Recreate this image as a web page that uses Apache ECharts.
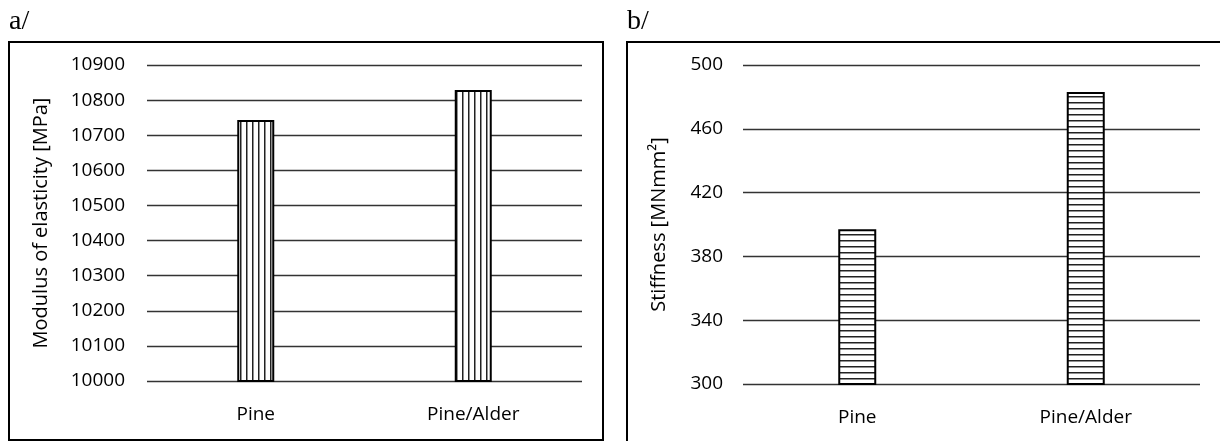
<!DOCTYPE html>
<html>
<head>
<meta charset="utf-8">
<script src="https://cdn.jsdelivr.net/npm/echarts@6/dist/echarts.min.js"></script>
<style>html,body{margin:0;padding:0;background:#fff}#c{width:1220px;height:441px}</style>
</head>
<body>
<div id="c"></div>
<script>
const categories = ['Pine', 'Pine/Alder'];
const modulusValues = [10743, 10829];
const stiffnessValues = [397, 483];
const modulusTicks = [10000, 10900, 100];
const stiffnessTicks = [300, 500, 40];

function stripePattern(vertical) {
  const c = document.createElement('canvas');
  const s = 6;
  c.width = s; c.height = s;
  const g = c.getContext('2d');
  g.fillStyle = '#fff'; g.fillRect(0, 0, s, s);
  g.fillStyle = '#222';
  if (vertical) g.fillRect(0, 0, 1.5, s); else g.fillRect(0, 0, s, 1.5);
  return { image: c, repeat: 'repeat' };
}

const font = 'Open Sans';
const chart = echarts.init(document.getElementById('c'));
const axisCommon = {
  axisLine: { show: false }, axisTick: { show: false },
  splitLine: { lineStyle: { color: '#333', width: 1.3 } },
  nameLocation: 'middle', nameTextStyle: { color: '#000', fontFamily: font, fontSize: 20 }
};
const tickLabel = (m) => ({ color: '#000', fontFamily: font, fontSize: 19, margin: m, formatter: v => String(v) });
chart.setOption({
  animation: false,
  grid: [
    { left: 147, right: 638, top: 65, bottom: 60 },
    { left: 743, right: 20, top: 65, bottom: 57 }
  ],
  xAxis: [0, 1].map(i => ({
    type: 'category', gridIndex: i, data: categories,
    axisLine: { show: false }, axisTick: { show: false },
    axisLabel: { color: '#000', fontFamily: font, fontSize: 19, margin: 24 }
  })),
  yAxis: [
    Object.assign({}, axisCommon, {
      gridIndex: 0, type: 'value', min: modulusTicks[0], max: modulusTicks[1], interval: modulusTicks[2],
      name: 'Modulus of elasticity [MPa]', nameGap: 96, axisLabel: tickLabel(22)
    }),
    Object.assign({}, axisCommon, {
      gridIndex: 1, type: 'value', min: stiffnessTicks[0], max: stiffnessTicks[1], interval: stiffnessTicks[2],
      name: 'Stiffness [MNmm²]', nameGap: 74, axisLabel: tickLabel(20)
    })
  ],
  series: [
    { type: 'bar', xAxisIndex: 0, yAxisIndex: 0, data: modulusValues, barWidth: 37,
      itemStyle: { color: stripePattern(true), borderColor: '#000', borderWidth: 2 } },
    { type: 'bar', xAxisIndex: 1, yAxisIndex: 1, data: stiffnessValues, barWidth: 38,
      itemStyle: { color: stripePattern(false), borderColor: '#000', borderWidth: 2 } }
  ],
  graphic: [
    { type: 'rect', shape: { x: 9, y: 42, width: 594, height: 398 }, style: { fill: 'none', stroke: '#000', lineWidth: 2 } },
    { type: 'polyline', shape: { points: [[627, 460], [627, 42], [1240, 42]] }, style: { fill: 'none', stroke: '#000', lineWidth: 2 } },
    { type: 'text', left: 9, top: 8, style: { text: 'a/', font: '28px "Liberation Serif"', fill: '#000' } },
    { type: 'text', left: 627, top: 8, style: { text: 'b/', font: '28px "Liberation Serif"', fill: '#000' } }
  ]
});
</script>
</body>
</html>
